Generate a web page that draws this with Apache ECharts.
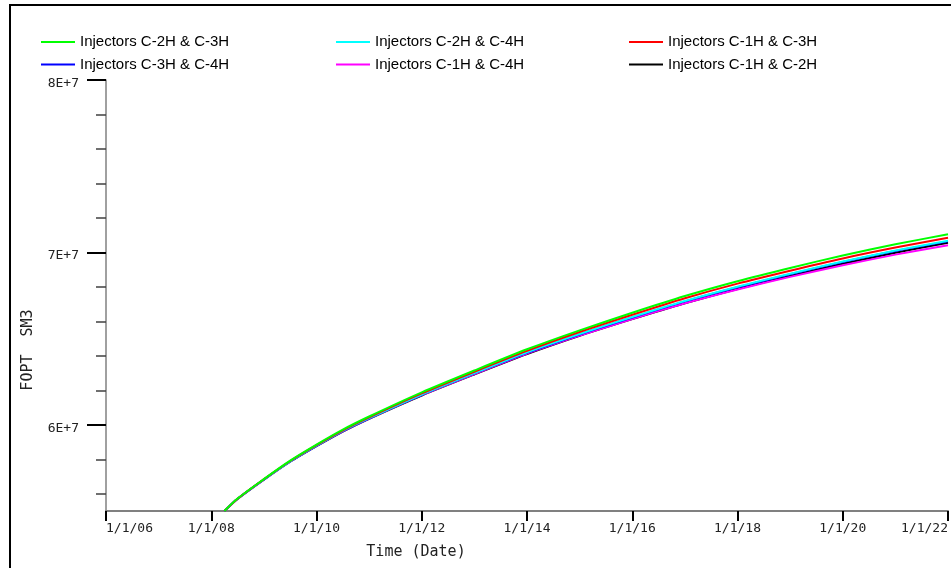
<!DOCTYPE html>
<html>
<head>
<meta charset="utf-8">
<title>FOPT</title>
<script src="https://cdn.jsdelivr.net/npm/echarts@6/dist/echarts.min.js"></script>
<style>
  html, body { margin: 0; padding: 0; background: #fff; }
  #chart { width: 951px; height: 568px; }
</style>
</head>
<body>
<div id="chart"></div>
<script>
// Sample times (decimal years) shared by all cases
const years = [
  2008.25, 2008.5, 2009, 2009.5, 2010, 2010.5,
  2011, 2012, 2013, 2014, 2015, 2016,
  2017, 2018, 2019, 2020, 2021, 2022
];

// Field oil production total, in millions of SM3, per injector pair
const fopt_C2H_C3H = [55.00, 55.72, 56.85, 57.92, 58.85, 59.72, 60.48, 61.88, 63.15, 64.38, 65.48, 66.50, 67.47, 68.33, 69.10, 69.82, 70.47, 71.05];
const fopt_C2H_C4H = [55.00, 55.71, 56.83, 57.88, 58.79, 59.65, 60.39, 61.76, 63.00, 64.21, 65.27, 66.25, 67.18, 68.01, 68.76, 69.47, 70.11, 70.68];
const fopt_C1H_C3H = [55.00, 55.71, 56.84, 57.90, 58.82, 59.68, 60.43, 61.82, 63.08, 64.29, 65.38, 66.38, 67.34, 68.19, 68.94, 69.65, 70.28, 70.85];
const fopt_C3H_C4H = [55.00, 55.71, 56.82, 57.87, 58.78, 59.63, 60.38, 61.74, 62.98, 64.17, 65.24, 66.22, 67.16, 67.98, 68.73, 69.44, 70.08, 70.64];
const fopt_C1H_C4H = [55.00, 55.71, 56.82, 57.87, 58.78, 59.62, 60.36, 61.72, 62.94, 64.13, 65.17, 66.14, 67.05, 67.85, 68.58, 69.25, 69.87, 70.42];
const fopt_C1H_C2H = [55.00, 55.70, 56.82, 57.86, 58.76, 59.61, 60.35, 61.70, 62.92, 64.10, 65.16, 66.13, 67.05, 67.88, 68.63, 69.34, 69.98, 70.56];

const seriesNames = [
  'Injectors C-2H & C-3H', 'Injectors C-2H & C-4H', 'Injectors C-1H & C-3H',
  'Injectors C-3H & C-4H', 'Injectors C-1H & C-4H', 'Injectors C-1H & C-2H'
];

// Axis ticks
const yMajorTicks = [60e6, 70e6, 80e6];
const yMinorTicks = [56e6, 58e6, 62e6, 64e6, 66e6, 68e6, 72e6, 74e6, 76e6, 78e6];
const xTickYears = [2006, 2008, 2010, 2012, 2014, 2016, 2018, 2020, 2022];

const toPairs = vals => years.map((t, i) => [t, vals[i] * 1e6]);

function line(name, vals, color) {
  return {
    name: name,
    type: 'line',
    data: toPairs(vals),
    color: color,
    showSymbol: false,
    smooth: 0.25,
    lineStyle: { width: 2, color: color },
    clip: true,
    animation: false
  };
}

const legendCommon = {
  orient: 'vertical',
  top: 29,
  icon: 'rect',
  itemWidth: 34,
  itemHeight: 2,
  itemGap: 6.5,
  textStyle: { fontFamily: 'Liberation Sans', fontSize: 15, color: '#000', lineHeight: 16 }
};

const tickFont = 'DejaVu Sans Mono';

const chart = echarts.init(document.getElementById('chart'), null, { renderer: 'canvas' });

chart.setOption({
  backgroundColor: '#fff',
  animation: false,
  grid: { left: 106, top: 80, right: 1, bottom: 57, containLabel: false },
  legend: [
    Object.assign({ left: 36, data: [seriesNames[0], seriesNames[3]] }, legendCommon),
    Object.assign({ left: 331, data: [seriesNames[1], seriesNames[4]] }, legendCommon),
    Object.assign({ left: 624, data: [seriesNames[2], seriesNames[5]] }, legendCommon)
  ],
  xAxis: {
    type: 'value',
    min: 2006,
    max: 2022,
    interval: 2,
    axisLine: { show: true, onZero: false, lineStyle: { color: '#808080', width: 2 } },
    axisTick: {
      show: true, length: 10, inside: false,
      lineStyle: { color: '#000', width: 2 }
    },
    axisLabel: {
      margin: 11,
      fontFamily: tickFont,
      fontSize: 13,
      color: '#222',
      alignMinLabel: 'left',
      alignMaxLabel: 'right',
      showMinLabel: true,
      showMaxLabel: true,
      formatter: v => (xTickYears.indexOf(v) >= 0 ? '1/1/' + String(v).slice(2) : '')
    },
    splitLine: { show: false }
  },
  yAxis: [
    {
      type: 'value',
      min: 55e6,
      max: 80e6,
      position: 'left',
      axisLine: { show: true, onZero: false, lineStyle: { color: '#808080', width: 1.5 } },
      axisTick: {
        show: true, customValues: yMinorTicks, length: 10,
        lineStyle: { color: '#404040', width: 1.5 }
      },
      axisLabel: { show: false },
      splitLine: { show: false }
    },
    {
      type: 'value',
      min: 55e6,
      max: 80e6,
      position: 'left',
      offset: 0,
      axisLine: { show: false },
      axisTick: {
        show: true, customValues: yMajorTicks, length: 19,
        lineStyle: { color: '#000', width: 2 }
      },
      axisLabel: {
        customValues: yMajorTicks,
        margin: 27,
        fontFamily: tickFont,
        fontSize: 13,
        color: '#222',
        verticalAlign: 'top',
        lineHeight: 7,
        formatter: v => (v / 1e7) + 'E+7'
      },
      splitLine: { show: false }
    }
  ],
  graphic: [
    {
      type: 'rect',
      shape: { x: 10, y: 5, width: 1000, height: 700 },
      style: { fill: 'none', stroke: '#000', lineWidth: 2 },
      silent: true,
      z: 100
    },
    {
      type: 'text',
      x: 416,
      y: 552,
      style: {
        text: 'Time (Date)', fontFamily: tickFont, fontSize: 15,
        fill: '#222', align: 'center', verticalAlign: 'middle'
      }
    },
    {
      type: 'text',
      x: 28,
      y: 350,
      rotation: Math.PI / 2,
      style: {
        text: 'FOPT  SM3', fontFamily: tickFont, fontSize: 15,
        fill: '#222', align: 'center', verticalAlign: 'middle'
      }
    }
  ],
  series: [
    line(seriesNames[5], fopt_C1H_C2H, '#000000'),
    line(seriesNames[4], fopt_C1H_C4H, '#ff00ff'),
    line(seriesNames[3], fopt_C3H_C4H, '#0000ff'),
    line(seriesNames[1], fopt_C2H_C4H, '#00ffff'),
    line(seriesNames[2], fopt_C1H_C3H, '#ff0000'),
    line(seriesNames[0], fopt_C2H_C3H, '#00ff00')
  ]
});
</script>
</body>
</html>
